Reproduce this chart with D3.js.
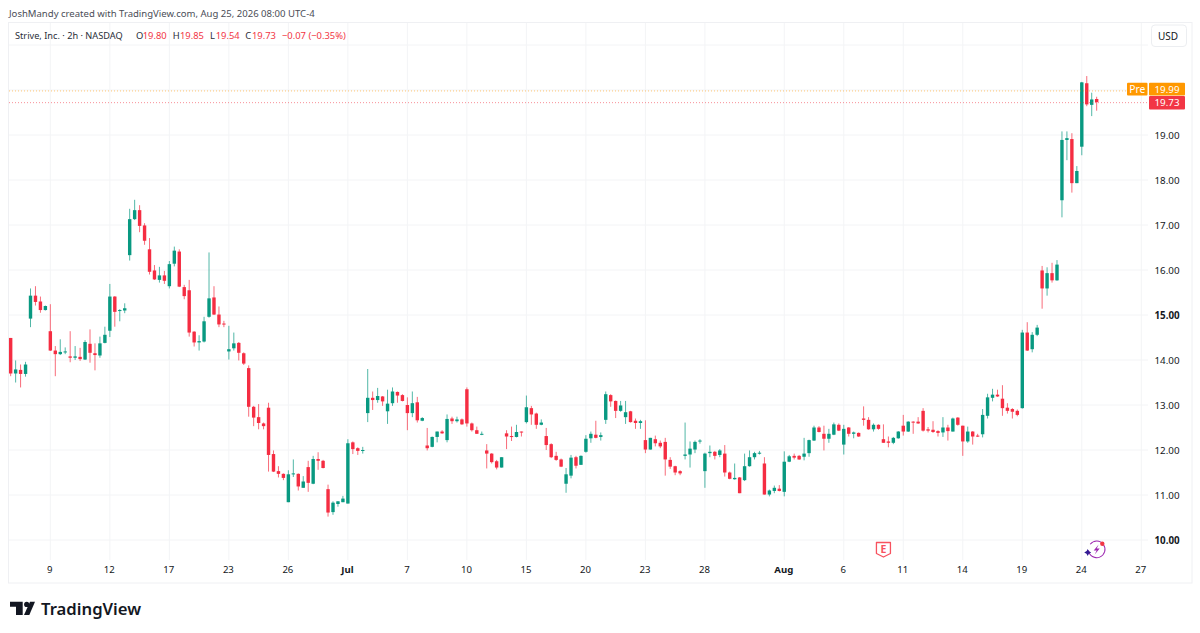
<!DOCTYPE html>
<html>
<head>
<meta charset="utf-8">
<title>Strive, Inc. 2h</title>
<script src="https://cdn.jsdelivr.net/npm/d3@7"></script>
<style>
  html, body { margin: 0; padding: 0; background: #fff; }
  svg { display: block; }
  text { font-family: "Noto Sans", sans-serif; }
</style>
</head>
<body>
<svg id="chart" width="1200" height="633"></svg>
<script>
const opens = [14.49,13.70,13.78,13.69,14.92,15.43,15.30,15.11,14.64,14.21,14.13,14.18,14.08,14.05,14.07,14.01,14.36,14.15,14.10,14.38,
  14.65,15.41,15.10,15.10,16.33,17.13,17.33,16.99,16.46,15.99,15.78,15.88,15.64,16.14,16.41,15.62,15.55,14.63,14.39,14.41,
  14.96,15.39,15.01,14.81,14.19,14.26,14.38,14.15,13.82,12.96,12.73,12.59,12.94,11.91,11.53,11.47,10.84,11.46,11.47,11.16,
  11.62,11.25,11.80,11.76,11.13,10.62,10.80,10.84,10.81,12.17,12.04,11.99,12.82,13.16,13.11,13.19,12.86,13.04,13.29,13.22,
  13.00,12.82,13.06,12.65,12.10,12.07,12.29,12.41,12.22,12.70,12.64,12.68,13.35,12.59,12.44,12.34,11.99,11.92,11.75,11.61,
  12.37,12.31,12.29,12.41,12.62,12.93,12.81,12.56,12.31,12.13,11.87,11.79,11.25,11.43,11.84,11.67,11.96,12.26,12.34,12.29,
  12.67,13.22,13.09,12.87,12.73,12.86,12.65,12.60,12.22,12.01,12.24,12.16,12.18,11.78,11.64,11.53,11.87,11.90,12.01,12.19,
  11.53,11.93,11.96,11.89,11.92,11.50,11.35,11.39,11.33,11.64,11.84,11.93,11.70,11.01,11.09,11.14,11.07,11.74,11.87,11.87,
  11.85,11.93,12.21,12.50,12.36,12.25,12.34,12.56,12.12,12.50,12.36,12.38,12.70,12.67,12.46,12.56,12.24,12.19,12.16,12.26,
  12.54,12.41,12.63,12.63,12.87,12.46,12.45,12.42,12.39,12.50,12.41,12.72,12.54,12.19,12.41,12.32,12.35,12.76,13.16,13.23,
  13.14,12.94,12.91,12.87,12.93,14.61,14.24,14.56,15.99,15.59,15.93,15.77,17.55,18.89,18.91,17.93,18.74,20.15,19.67,19.80];
const highs = [14.49,13.99,13.90,13.96,15.59,15.64,15.41,15.21,15.24,14.31,14.46,14.28,14.64,14.31,14.27,14.44,14.68,14.37,14.52,14.74,
  15.69,15.42,15.13,15.26,17.36,17.56,17.44,17.04,16.71,16.11,16.07,15.98,16.20,16.52,16.46,15.67,15.78,14.64,14.55,14.96,
  16.39,15.64,15.19,14.87,14.76,14.61,14.40,14.17,13.88,12.98,13.02,12.61,13.05,11.99,11.64,11.48,11.55,11.79,11.48,11.42,
  11.76,11.87,11.95,11.78,11.23,10.86,10.86,10.98,12.24,12.19,12.06,12.07,13.80,13.30,13.38,13.20,13.34,13.39,13.30,13.24,
  13.17,13.30,13.18,12.73,12.49,12.30,12.41,12.44,12.79,12.74,12.74,12.70,13.39,12.61,12.52,12.41,12.13,11.93,11.78,11.84,
  12.44,12.52,12.56,12.41,13.21,12.98,12.83,12.68,12.49,12.15,11.96,11.81,11.60,11.89,11.87,11.88,12.33,12.41,12.65,12.39,
  13.30,13.24,13.10,13.09,13.09,12.87,12.70,12.67,12.66,12.27,12.32,12.21,12.27,11.84,11.65,11.55,12.61,12.19,12.21,12.24,
  11.94,12.10,11.98,12.02,12.11,11.52,11.70,11.40,11.92,11.99,11.96,11.98,11.84,11.12,11.21,11.22,11.97,11.89,11.92,11.89,
  12.27,12.23,12.54,12.53,12.54,12.47,12.61,12.59,12.56,12.51,12.41,12.39,12.97,12.73,12.59,12.57,12.57,12.30,12.29,12.42,
  12.78,12.64,12.64,12.73,12.93,12.51,12.64,12.44,12.73,12.56,12.72,12.73,12.54,12.52,12.42,12.36,12.91,13.25,13.36,13.34,
  13.44,13.04,12.93,12.90,14.67,14.84,14.62,14.78,16.09,16.06,16.16,16.22,19.08,19.08,19.04,18.31,20.18,20.31,19.94,19.85];
const lows = [13.64,13.50,13.39,13.63,14.73,15.21,15.05,15.10,14.20,13.64,14.11,14.13,13.95,14.00,13.98,14.00,13.94,13.77,14.05,14.37,
  14.51,14.74,14.86,15.04,16.21,17.11,16.84,16.56,15.90,15.78,15.72,15.69,15.59,16.08,15.62,15.35,14.52,14.30,14.21,14.39,
  14.94,15.00,14.73,14.73,14.01,14.21,13.99,13.89,12.74,12.53,12.46,12.46,11.52,11.51,11.39,11.33,10.84,11.40,11.10,11.16,
  11.07,11.24,11.56,11.59,10.52,10.56,10.74,10.84,10.81,11.91,11.89,11.92,12.62,12.89,13.05,12.98,12.58,12.98,13.05,13.08,
  12.44,12.73,12.61,12.64,11.99,12.06,12.17,12.36,12.17,12.58,12.61,12.56,12.52,12.41,12.36,12.33,11.59,11.70,11.57,11.61,
  12.02,12.20,12.28,12.30,12.59,12.56,12.47,12.55,12.00,11.82,11.76,11.62,11.05,11.37,11.59,11.67,11.94,12.16,12.26,12.21,
  12.58,12.96,12.71,12.85,12.58,12.61,12.47,12.47,11.93,12.01,12.08,12.04,11.43,11.58,11.44,11.44,11.79,11.61,11.93,12.14,
  11.16,11.84,11.79,11.84,11.41,11.35,11.34,11.04,11.31,11.63,11.79,11.90,11.01,10.97,11.04,11.08,10.97,11.73,11.79,11.78,
  11.77,11.85,12.20,12.39,11.99,12.16,12.33,12.42,11.90,12.30,12.26,12.29,12.54,12.45,12.41,12.45,12.16,12.06,12.13,12.25,
  12.32,12.40,12.36,12.58,12.41,12.39,12.38,12.30,12.29,12.21,12.41,12.54,11.87,12.16,12.12,12.29,12.28,12.70,13.08,13.18,
  12.76,12.81,12.70,12.75,12.92,14.20,14.17,14.53,15.14,15.43,15.72,15.76,17.17,18.44,17.72,17.93,18.55,19.64,19.42,19.54];
const closes = [13.70,13.79,13.69,13.90,15.43,15.29,15.11,15.20,14.21,14.13,14.18,14.19,14.05,14.08,14.02,14.40,14.16,14.11,14.37,14.56,
  15.41,15.07,15.11,15.15,17.13,17.33,16.98,16.65,15.96,15.79,15.88,15.76,16.13,16.43,15.63,15.42,14.61,14.39,14.42,14.86,
  15.37,15.01,14.79,14.79,14.24,14.37,14.16,13.92,12.96,12.72,12.60,12.53,11.89,11.52,11.47,11.38,11.46,11.48,11.19,11.30,
  11.27,11.80,11.76,11.60,10.61,10.83,10.86,10.92,12.15,12.02,11.98,12.00,13.16,13.11,13.20,13.08,13.03,13.30,13.21,13.09,
  12.82,13.04,12.66,12.71,12.04,12.29,12.41,12.37,12.69,12.64,12.68,12.57,12.59,12.44,12.36,12.36,11.92,11.73,11.61,11.84,
  12.30,12.30,12.40,12.40,12.95,12.79,12.56,12.61,12.11,11.84,11.78,11.63,11.46,11.83,11.65,11.87,12.25,12.36,12.27,12.33,
  13.24,13.08,12.87,12.99,12.84,12.62,12.60,12.64,12.01,12.27,12.15,12.08,11.79,11.63,11.50,11.48,11.90,12.03,12.18,12.21,
  11.92,11.96,11.87,11.99,11.50,11.36,11.38,11.04,11.64,11.84,11.93,11.94,11.01,11.10,11.16,11.09,11.74,11.86,11.83,11.79,
  11.92,12.22,12.50,12.40,12.25,12.36,12.57,12.43,12.47,12.36,12.39,12.30,12.67,12.46,12.56,12.47,12.16,12.16,12.27,12.41,
  12.41,12.63,12.61,12.59,12.43,12.43,12.40,12.38,12.50,12.42,12.70,12.56,12.19,12.41,12.30,12.30,12.78,13.17,13.23,13.19,
  12.93,12.87,12.85,12.78,14.61,14.21,14.56,14.72,15.59,15.93,15.77,16.12,18.89,18.93,17.93,18.20,20.17,19.68,19.79,19.73];

// bar index of each time label
const timeTickBars = [8,20,32,44,56,68,80,92,104,116,128,140,156,168,180,192,204,216,228];
const timeTickLabels = ["9","12","17","23","26","Jul","7","10","15","20","23","28","Aug","6","11","14","19","24","27"];
const boldTimeLabels = ["Jul","Aug"];
const priceTicks = [10,11,12,13,14,15,16,17,18,19];
const gridPrices = [10,11,12,13,14,15,16,17,18,19,20,21];
const boldPrices = [10,15];
const prePrice = 19.99;
const lastPrice = 19.73;
const earningsBar = 176;
const upColor = "#089981", downColor = "#f52d42", tagRed = "#f23645", preColor = "#ff9800";

const svg = d3.select("#chart");
const x = d3.scaleLinear().domain([0, 219]).range([10.67, 1096.67]);
const y = d3.scaleLinear().domain([10, 20]).range([540, 90]);
const plotTop = 23, plotBottom = 560, frameRight = 1192, frameBottom = 583, gridRight = 1148;

svg.append("text").attr("x", 9).attr("y", 16.5)
  .attr("font-size", 9.55).attr("fill", "#4a4d57")
  .text("JoshMandy created with TradingView.com, Aug 25, 2026 08:00 UTC-4");

// frame
svg.append("rect").attr("x", 8.5).attr("y", 22.5)
  .attr("width", frameRight - 8.5).attr("height", frameBottom - 22.5)
  .attr("fill", "none").attr("stroke", "#eff0f3");

// grid
svg.append("g").selectAll("line").data(gridPrices).join("line")
  .attr("x1", 9).attr("x2", gridRight)
  .attr("y1", d => y(d)).attr("y2", d => y(d))
  .attr("stroke", "#f3f4f6");
svg.append("g").selectAll("line").data(timeTickBars).join("line")
  .attr("x1", d => x(d)).attr("x2", d => x(d))
  .attr("y1", plotTop).attr("y2", plotBottom)
  .attr("stroke", "#f3f4f6");

// candles
const bars = d3.range(opens.length);
const candles = svg.append("g");
candles.selectAll("line").data(bars).join("line")
  .attr("x1", i => x(i)).attr("x2", i => x(i))
  .attr("y1", i => y(highs[i])).attr("y2", i => y(lows[i]))
  .attr("stroke", i => closes[i] >= opens[i] ? upColor : downColor)
  .attr("stroke-opacity", 0.7);
candles.selectAll("rect").data(bars).join("rect")
  .attr("x", i => x(i) - 1.7).attr("width", 3.4)
  .attr("y", i => y(Math.max(opens[i], closes[i])))
  .attr("height", i => Math.max(1, Math.abs(y(opens[i]) - y(closes[i]))))
  .attr("fill", i => closes[i] >= opens[i] ? upColor : downColor);

// price lines
svg.append("line").attr("x1", 9).attr("x2", 1127).attr("y1", y(prePrice) + 0.5).attr("y2", y(prePrice) + 0.5)
  .attr("stroke", preColor).attr("stroke-opacity", 0.55).attr("stroke-dasharray", "1 2");
svg.append("line").attr("x1", 9).attr("x2", 1149).attr("y1", y(lastPrice) + 0.5).attr("y2", y(lastPrice) + 0.5)
  .attr("stroke", tagRed).attr("stroke-opacity", 0.55).attr("stroke-dasharray", "1 2");

// axes
const axisY = svg.append("g").attr("transform", "translate(1167,0)")
  .call(d3.axisRight(y).tickValues(priceTicks).tickFormat(d3.format(".2f")).tickSize(0).tickPadding(0));
axisY.select(".domain").remove();
axisY.selectAll("text")
  .attr("text-anchor", "middle")
  .attr("font-family", '"Noto Sans", sans-serif').attr("font-size", 9.8)
  .attr("fill", "#131722").attr("font-weight", d => boldPrices.includes(d) ? 700 : 400);

const axisX = svg.append("g").attr("transform", "translate(-1,566.5)")
  .call(d3.axisBottom(x).tickValues(timeTickBars)
    .tickFormat((d, i) => timeTickLabels[i]).tickSize(0).tickPadding(0));
axisX.select(".domain").remove();
axisX.selectAll("text")
  .attr("font-family", '"Noto Sans", sans-serif').attr("font-size", 9.6)
  .attr("fill", "#131722")
  .attr("font-weight", (d, i) => boldTimeLabels.includes(timeTickLabels[i]) ? 700 : 400);

// legend line
const fmt = d3.format(".2f");
const legend = [
  { t: "Strive, Inc. · 2h · NASDAQ", x: 15, c: "#2a2e39", s: 9.2 },
  { t: "O", x: 136, c: "#2a2e39", s: 9.4 }, { t: fmt(opens[219]), x: 142.7, c: tagRed, s: 9.4 },
  { t: "H", x: 172.7, c: "#2a2e39", s: 9.4 }, { t: fmt(highs[219]), x: 180, c: tagRed, s: 9.4 },
  { t: "L", x: 210, c: "#2a2e39", s: 9.4 }, { t: fmt(lows[219]), x: 215.7, c: tagRed, s: 9.4 },
  { t: "C", x: 245.3, c: "#2a2e39", s: 9.4 }, { t: fmt(closes[219]), x: 252, c: tagRed, s: 9.4 },
  { t: "−0.07 (−0.35%)", x: 282, c: tagRed, s: 9.4 }
];
svg.append("g").selectAll("text").data(legend).join("text")
  .attr("x", d => d.x).attr("y", 38.8).attr("font-size", d => d.s)
  .attr("fill", d => d.c).text(d => d.t);

// USD button
svg.append("rect").attr("x", 1151.5).attr("y", 25).attr("width", 35).attr("height", 21.5).attr("rx", 3.5)
  .attr("fill", "#fff").attr("stroke", "#eceef1");
svg.append("text").attr("x", 1168).attr("y", 39.5).attr("text-anchor", "middle")
  .attr("font-size", 10).attr("fill", "#131722").text("USD");

// price tags
const preTagY = y(prePrice) - 7.7, lastTagY = y(lastPrice) - 6.1;
svg.append("rect").attr("x", 1127).attr("y", preTagY).attr("width", 20.5).attr("height", 12.7).attr("rx", 1).attr("fill", preColor);
svg.append("text").attr("x", 1137.3).attr("y", preTagY + 10).attr("text-anchor", "middle")
  .attr("font-size", 10.3).attr("fill", "#fff").text("Pre");
svg.append("rect").attr("x", 1149).attr("y", preTagY).attr("width", 36).attr("height", 12.7).attr("rx", 1).attr("fill", preColor);
svg.append("text").attr("x", 1167).attr("y", preTagY + 10).attr("text-anchor", "middle")
  .attr("font-size", 9.8).attr("fill", "#fff").text(fmt(prePrice));
svg.append("rect").attr("x", 1149).attr("y", lastTagY).attr("width", 36).attr("height", 13.4).attr("rx", 1).attr("fill", tagRed);
svg.append("text").attr("x", 1167).attr("y", lastTagY + 10.3).attr("text-anchor", "middle")
  .attr("font-size", 9.8).attr("fill", "#fff").text(fmt(lastPrice));

// earnings marker
const em = svg.append("g").attr("transform", `translate(${x(earningsBar)},549.5)`);
em.append("path").attr("d", "M-7,-7 H7 V4 L0,7.5 L-7,4 Z")
  .attr("fill", "#fff").attr("stroke", "#f7525f").attr("stroke-width", 1.3).attr("stroke-linejoin", "round");
em.append("text").attr("y", 3.6).attr("text-anchor", "middle").attr("font-size", 10.5).attr("font-weight", 700)
  .attr("fill", "#f7525f").text("E");

// news/lightning marker
const lm = svg.append("g").attr("transform", "translate(1096.7,549.4)");
lm.append("path").attr("d", d3.arc()({ innerRadius: 7.8, outerRadius: 8.8, startAngle: -0.9, endAngle: 4.6 }))
  .attr("fill", "#9c27b0");
lm.append("path").attr("d", "M2,-5 L-3,1 L0,1 L-2,5 L3,-1 L0,-1 Z").attr("fill", "#9c27b0");
lm.append("circle").attr("cx", 5.6).attr("cy", -5.7).attr("r", 2.2).attr("fill", "#f23645");
lm.append("path").attr("d", "M-9,-0.5 Q-8.4,2.3 -5.5,3 Q-8.4,3.7 -9,6.5 Q-9.6,3.7 -12.5,3 Q-9.6,2.3 -9,-0.5 Z").attr("fill", "#311b92");

// logo
const logo = svg.append("g").attr("transform", "translate(10,601.7)").attr("fill", "#131722");
logo.append("path").attr("d", "M0 0H12.7V13.3H6V5H0Z");
logo.append("circle").attr("cx", 16.7).attr("cy", 2.7).attr("r", 2.6);
logo.append("path").attr("d", "M20 0H25L19.3 13.3H14Z");
svg.append("text").attr("x", 41).attr("y", 614.5).attr("font-family", "Inter, sans-serif")
  .attr("font-size", 16.7).attr("font-weight", 600).attr("fill", "#131722").text("TradingView");
</script>
</body>
</html>
